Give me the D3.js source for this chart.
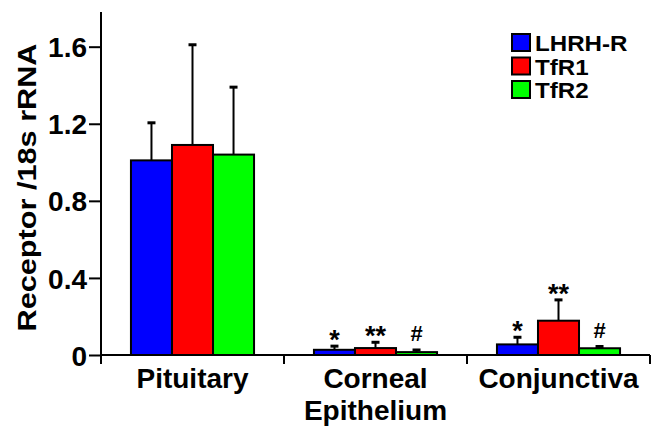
<!DOCTYPE html>
<html>
<head>
<meta charset="utf-8">
<script src="https://cdn.jsdelivr.net/npm/d3@7"></script>
<style>
  body { margin: 0; background: #fff; }
  text { font-family: "Liberation Sans", Arial, sans-serif; font-weight: bold; fill: #000; }
</style>
</head>
<body>
<svg id="chart" width="657" height="435"></svg>
<script>
var categories = ["Pituitary", "Corneal\nEpithelium", "Conjunctiva"];
var series = ["LHRH-R", "TfR1", "TfR2"];
var colors = ["#0000ff", "#ff0000", "#00ff00"];

// means and upper error (SD)
var lhrhR = [1.01, 0.027, 0.055];
var tfr1 = [1.09, 0.036, 0.178];
var tfr2 = [1.04, 0.015, 0.035];
var lhrhRErr = [0.195, 0.019, 0.037];
var tfr1Err = [0.52, 0.03, 0.108];
var tfr2Err = [0.35, 0.011, 0.009];
var marks = [["", "*", "*"], ["", "**", "**"], ["", "#", "#"]];

var yTicks = [0, 0.4, 0.8, 1.2, 1.6];

var values = [lhrhR, tfr1, tfr2];
var errs = [lhrhRErr, tfr1Err, tfr2Err];

var svg = d3.select("#chart");

var y = d3.scaleLinear().domain([0, 1.78]).range([355, 12]);
var x0 = d3.scaleBand().domain(categories).range([101, 650]);
var x1 = d3.scaleBand().domain(series).range([0, x0.bandwidth()]).paddingOuter(0.73);

var data = [];
categories.forEach(function(c, ci) {
    series.forEach(function(s, si) {
        data.push({
            cat: c, ser: s, si: si,
            v: values[si][ci],
            e: errs[si][ci],
            mark: marks[si][ci]
        });
    });
});

function cx(d) { return x0(d.cat) + x1(d.ser) + x1.bandwidth() / 2; }

// error bars (drawn first so bars cover the lower half)
var eb = svg.append("g");
eb.selectAll("line.stem").data(data).enter().append("line")
    .attr("x1", cx).attr("x2", cx)
    .attr("y1", function(d) { return y(d.v); })
    .attr("y2", function(d) { return y(d.v + d.e); })
    .attr("stroke", "#000").attr("stroke-width", 2);
eb.selectAll("line.cap").data(data).enter().append("line")
    .attr("x1", function(d) { return cx(d) - 4; })
    .attr("x2", function(d) { return cx(d) + 4; })
    .attr("y1", function(d) { return y(d.v + d.e); })
    .attr("y2", function(d) { return y(d.v + d.e); })
    .attr("stroke", "#000").attr("stroke-width", 3);

svg.append("g").selectAll("rect").data(data).enter().append("rect")
    .attr("x", function(d) { return x0(d.cat) + x1(d.ser); })
    .attr("width", x1.bandwidth())
    .attr("y", function(d) { return y(d.v); })
    .attr("height", function(d) { return y(0) - y(d.v); })
    .attr("fill", function(d) { return colors[d.si]; })
    .attr("stroke", "#000").attr("stroke-width", 2);

// significance marks
svg.append("g").selectAll("text").data(data.filter(function(d) { return d.mark; })).enter().append("text")
    .attr("x", cx)
    .attr("y", function(d) { return y(d.v + d.e) + (d.mark == "#" ? -9 : 3); })
    .attr("text-anchor", "middle")
    .style("font-size", function(d) { return d.mark == "#" ? "22px" : "27px"; })
    .text(function(d) { return d.mark; });

// y axis
var yAxis = svg.append("g").attr("transform", "translate(101,0)")
    .call(d3.axisLeft(y).tickValues(yTicks).tickSize(12).tickPadding(2)
        .tickFormat(function(d) { return d == 0 ? "0" : d3.format(".1f")(d); }));
yAxis.select(".domain").attr("d", "M0," + y(1.78) + "V" + y(0)).attr("stroke-width", 2);
yAxis.selectAll(".tick line").attr("stroke-width", 2);
yAxis.selectAll("text").style("font-size", "28px").attr("dy", "0.36em")
    .style("font-family", "'Liberation Sans', Arial, sans-serif").style("font-weight", "bold");

// x axis
var xg = svg.append("g");
xg.append("line").attr("x1", 101).attr("x2", 650).attr("y1", y(0)).attr("y2", y(0))
    .attr("stroke", "#000").attr("stroke-width", 2);
var edges = categories.map(function(c) { return x0(c); }).concat([x0.range()[1]]);
xg.selectAll("line.tk").data(edges).enter().append("line")
    .attr("x1", function(d) { return d; }).attr("x2", function(d) { return d; })
    .attr("y1", y(0)).attr("y2", y(0) + 9)
    .attr("stroke", "#000").attr("stroke-width", 2);
xg.selectAll("text").data(categories).enter().append("text")
    .attr("x", function(d) { return x0(d) + x0.bandwidth() / 2; })
    .attr("y", 388)
    .attr("text-anchor", "middle")
    .style("font-size", "28px")
    .each(function(d) {
        var lines = d.split("\n");
        var t = d3.select(this);
        lines.forEach(function(l, i) {
            t.append("tspan").attr("x", t.attr("x")).attr("dy", i ? 32 : 0).text(l);
        });
    });

// y title
svg.append("text")
    .attr("transform", "translate(36,187.5) rotate(-90)")
    .attr("text-anchor", "middle")
    .attr("textLength", 288).attr("lengthAdjust", "spacingAndGlyphs")
    .style("font-size", "26px")
    .text("Receptor /18s rRNA");

// legend
var lg = svg.append("g").attr("transform", "translate(512,34)");
var row = lg.selectAll("g").data(series).enter().append("g")
    .attr("transform", function(d, i) { return "translate(0," + (i * 23.5) + ")"; });
row.append("rect").attr("width", 18).attr("height", 17)
    .attr("fill", function(d, i) { return colors[i]; })
    .attr("stroke", "#000").attr("stroke-width", 2);
row.append("text")
    .attr("transform", "translate(23,17) scale(1.15,1.05)")
    .style("font-size", "21px")
    .text(function(d) { return d; });
</script>
</body>
</html>
